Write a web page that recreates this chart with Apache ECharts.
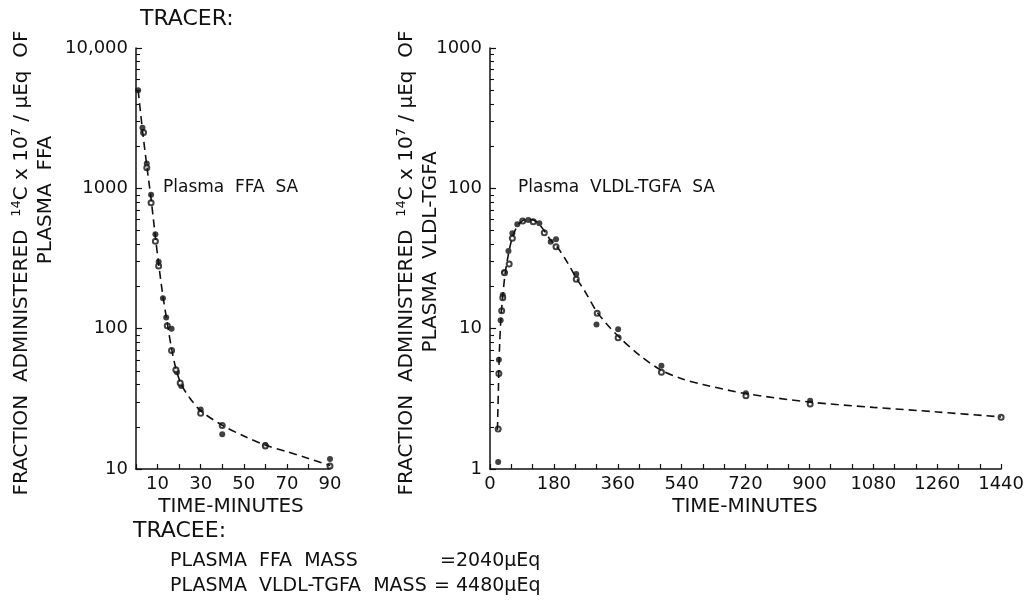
<!DOCTYPE html>
<html>
<head>
<meta charset="utf-8">
<script src="https://cdn.jsdelivr.net/npm/echarts@6/dist/echarts.min.js"></script>
<style>
  html, body { margin: 0; background: #fff; }
  #chart { width: 1027px; height: 603px; }
</style>
</head>
<body>
<div id="chart"></div>
<script>
// plasma FFA specific activity, [minutes, value]
const ffaFilled = [[1, 5000], [3, 2700], [5, 1500], [7, 900], [9, 470], [10.5, 300], [12.5, 165],
  [14, 120], [16.5, 100], [19, 49], [21, 39], [30, 26.5], [40, 17.7], [60, 14.8], [90, 11.8]];
const ffaOpen = [[3.5, 2500], [5, 1400], [7, 790], [9, 420], [10.5, 280], [14.5, 105], [16.5, 70],
  [18.5, 51], [20.5, 41], [30, 25], [40, 20.4], [60, 14.6], [90, 10.5]];
const ffaCurve = [[1, 5000], [3, 2600], [5, 1450], [7, 840], [9, 450], [10.5, 290], [12.5, 170],
  [14.5, 110], [16.5, 72], [18.5, 52], [21, 40], [25, 32], [30, 26], [40, 20.5], [50, 17.2],
  [60, 14.8], [70, 13.3], [80, 11.9], [90, 10.6]];

// plasma VLDL-TGFA specific activity, [minutes, value]
const vldlFilled = [[23, 1.12], [25, 6], [30, 11.5], [36, 17.4], [40, 25.2], [52, 35.8], [63, 47.9],
  [77, 55.5], [108, 59.5], [139, 56.4], [171, 41.7], [186, 43.4], [243, 24.5], [300, 10.7],
  [361, 9.9], [483, 5.45], [721, 3.46], [902, 3.07]];
const vldlOpen = [[23, 1.93], [25, 4.8], [33, 13.4], [36, 16.6], [41, 25], [54, 28.9], [63, 44],
  [92, 58.6], [122, 57.9], [153, 48.3], [186, 38.4], [243, 22.5], [302, 12.9], [361, 8.63],
  [483, 4.89], [721, 3.33], [902, 2.91], [1440, 2.34]];
const vldlCurve = [[21, 1.9], [24, 4], [27, 7.5], [31, 12], [36, 17], [42, 24], [50, 32], [60, 42],
  [72, 51], [85, 57], [100, 60], [115, 60], [130, 58], [150, 51], [170, 43], [190, 38], [215, 30.5],
  [243, 23], [270, 18], [300, 13.3], [330, 10.7], [360, 8.9], [420, 6.5], [480, 5.1], [540, 4.4],
  [600, 4.0], [720, 3.45], [900, 3.0], [1080, 2.75], [1260, 2.55], [1440, 2.35]];

// log axis minor tick positions
const ffaMinorTicks = [20, 30, 40, 50, 60, 70, 80, 90, 200, 300, 400, 500, 600, 700, 800, 900,
  2000, 3000, 4000, 5000, 6000, 7000, 8000, 9000];
const vldlMinorTicks = [2, 3, 4, 5, 6, 7, 8, 9, 20, 30, 40, 50, 60, 70, 80, 90,
  200, 300, 400, 500, 600, 700, 800, 900];

const FONT = 'DejaVu Sans';
const INK = '#111';

const chart = echarts.init(document.getElementById('chart'));

function xAxisOf(gridIndex, max, interval, every, offset) {
  return {
    type: 'value', gridIndex: gridIndex, min: 0, max: max, interval: interval,
    splitLine: { show: false },
    axisLine: { lineStyle: { color: INK, width: 1.5 } },
    axisTick: { inside: true, length: 5, lineStyle: { color: INK, width: 1.2 } },
    axisLabel: {
      color: INK, fontFamily: FONT, fontSize: 18, margin: 6,
      formatter: function (v) { return v % every === offset ? String(v) : ''; }
    }
  };
}

function yAxisOf(gridIndex, min, max) {
  return {
    type: 'log', gridIndex: gridIndex, min: min, max: max, logBase: 10, position: 'left',
    splitLine: { show: false },
    axisLine: { lineStyle: { color: INK, width: 1.5 } },
    axisTick: { inside: true, length: 6, lineStyle: { color: INK, width: 1.2 } },
    axisLabel: {
      color: INK, fontFamily: FONT, fontSize: 18, margin: 8,
      formatter: function (v) { return v === 10000 ? '10,000' : String(v); }
    }
  };
}

// second log axis on the same grid that only carries the minor ticks
function minorAxisOf(gridIndex, min, max, ticks) {
  return {
    type: 'log', gridIndex: gridIndex, min: min, max: max, logBase: 10, position: 'left',
    splitLine: { show: false },
    axisLine: { show: false },
    axisLabel: { show: false },
    axisTick: { inside: true, length: 4, customValues: ticks, lineStyle: { color: INK, width: 1.1 } }
  };
}

function curveSeries(axisIndex, data) {
  return {
    type: 'line', xAxisIndex: axisIndex, yAxisIndex: axisIndex, data: data, showSymbol: false,
    smooth: 0.3, lineStyle: { color: INK, width: 1.6, type: [8, 5] }
  };
}

function dotSeries(axisIndex, data, open) {
  return {
    type: 'scatter', xAxisIndex: axisIndex, yAxisIndex: axisIndex, data: data,
    symbol: open ? 'emptyCircle' : 'circle', symbolSize: open ? 5 : 6,
    itemStyle: { color: INK, borderWidth: open ? 1.3 : 0 }
  };
}

const yTitleRich = {
  sup: { fontSize: 13, fontFamily: FONT, color: INK, verticalAlign: 'top', lineHeight: 24 }
};

function label(text, x, y, size, align) {
  return {
    type: 'text', x: x, y: y,
    style: { text: text, fill: INK, font: size + 'px "' + FONT + '"',
      align: align || 'left', verticalAlign: 'middle' }
  };
}

function vertical(text, x, y, rich) {
  return {
    type: 'text', x: x, y: y, rotation: Math.PI / 2,
    style: { text: text, rich: rich, fill: INK, font: '20px "' + FONT + '"',
      align: 'center', verticalAlign: 'middle' }
  };
}

const options = {
  animation: false,
  backgroundColor: '#fff',
  grid: [
    { left: 136, right: 697, top: 48, bottom: 134 },
    { left: 490, right: 25, top: 48, bottom: 134 }
  ],
  xAxis: [xAxisOf(0, 90, 10, 20, 10), xAxisOf(1, 1440, 60, 180, 0)],
  yAxis: [
    yAxisOf(0, 10, 10000),
    yAxisOf(1, 1, 1000),
    minorAxisOf(0, 10, 10000, ffaMinorTicks),
    minorAxisOf(1, 1, 1000, vldlMinorTicks)
  ],
  series: [
    curveSeries(0, ffaCurve),
    dotSeries(0, ffaFilled, false),
    dotSeries(0, ffaOpen, true),
    curveSeries(1, vldlCurve),
    dotSeries(1, vldlFilled, false),
    dotSeries(1, vldlOpen, true)
  ],
  graphic: [
    label('TRACER:', 140, 19, 22),
    vertical('FRACTION  ADMINISTERED  {sup|14}C x 10{sup|7} / µEq  OF', 22, 263, yTitleRich),
    vertical('PLASMA  FFA', 46, 200),
    vertical('FRACTION  ADMINISTERED  {sup|14}C x 10{sup|7} / µEq  OF', 407, 263, yTitleRich),
    vertical('PLASMA  VLDL-TGFA', 431, 252),
    label('Plasma  FFA  SA', 163, 188, 17),
    label('Plasma  VLDL-TGFA  SA', 518, 188, 17),
    label('TIME-MINUTES', 231, 507, 20, 'center'),
    label('TIME-MINUTES', 745, 507, 20, 'center'),
    label('TRACEE:', 133, 531, 22),
    label('PLASMA  FFA  MASS', 170, 561, 19),
    label('=2040µEq', 440, 561, 19),
    label('PLASMA  VLDL-TGFA  MASS', 170, 586, 19),
    label('= 4480µEq', 434, 586, 19)
  ]
};

chart.setOption(options);
</script>
</body>
</html>
